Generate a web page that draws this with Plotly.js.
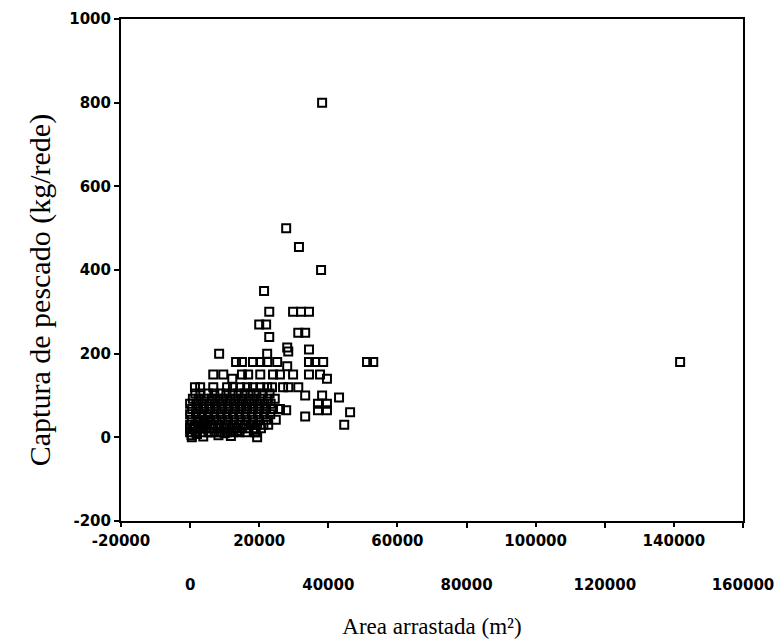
<!DOCTYPE html>
<html>
<head>
<meta charset="utf-8">
<script src="https://cdn.plot.ly/plotly-3.0.1.min.js"></script>
<style>html,body{margin:0;padding:0;background:#fff;}#chart{width:783px;height:639px;}</style>
</head>
<body>
<div id="chart"></div>
<script>
// Area arrastada (m2) and Captura de pescado (kg/rede)
const areaM2 = [
  // sparse / high points
  38200, 27800, 31500, 37900, 21400,
  22900, 29800, 32100, 34400, 20000, 22000, 31300, 33300, 22900,
  28100, 28400, 34400, 8400, 22300,
  13300, 15000, 18200, 20300, 22300, 25200, 28100, 34400, 36200, 38500, 51200, 53000, 141800,
  6700, 9600, 12200, 15000, 16800, 20300, 24000, 26000, 29800, 34400, 37600, 39600,
  1400, 2900, 6700, 10700, 12400, 14500, 16500, 18200, 20300, 22300, 23700, 26900, 28400, 31300,
  33300, 38200, 43100, 37000, 39600, 37000, 39600, 46300, 33300, 27800, 22600, 44600, 19400, 18800,
  // dense rows
  1500, 3000, 5200, 7000, 8800, 10500, 12300, 14000, 15800, 17500, 19200, 21000, 23000,
  800, 2500, 4200, 6300, 8000, 9700, 11600, 13200, 15000, 16900, 18600, 20400, 22500, 24500,
  0, 1800, 3600, 5500, 7200, 9000, 10800, 12600, 14300, 16100, 17800, 19600, 21500, 23300,
  600, 2300, 4000, 5900, 7700, 9400, 11200, 13000, 14800, 16500, 18300, 20100, 22000, 24000, 26000,
  0, 1700, 3400, 5200, 7000, 8800, 10600, 12400, 14200, 16000, 17800, 19600, 21400, 23200,
  500, 2200, 4000, 5800, 7600, 9300, 11000, 12800, 14600, 16400, 18200, 20000, 22000, 24800,
  0, 1500, 3200, 5000, 6800, 8600, 10400, 12200, 14000, 15800, 17600, 19400, 21200,
  900, 2600, 4400, 6200, 8000, 9800, 11500, 13300, 15100, 16900, 18700, 20500,
  0, 1600, 3500, 5300, 7100, 8900, 10700, 12500, 14300, 16100, 19000,
  500, 2000, 3800, 6000, 8200, 10000, 11800, 13600, 18500,
  // low cluster near the origin
  0, 600, 1200, 1800, 2600, 3400, 4200, 5000, 400, 1500, 2800, 3800, 0, 2200, 4500, 1000, 3000, 6000, 5600
];
const capturaKg = [
  800, 500, 455, 400, 350,
  300, 300, 300, 300, 270, 270, 250, 250, 240,
  215, 205, 210, 200, 200,
  180, 180, 180, 180, 180, 180, 170, 180, 180, 180, 180, 180, 180,
  150, 150, 140, 150, 150, 150, 150, 150, 150, 150, 150, 140,
  120, 120, 120, 120, 120, 120, 120, 120, 120, 120, 120, 120, 120, 120,
  100, 100, 95, 80, 80, 65, 65, 60, 50, 65, 30, 30, 0, 12,
  105, 105, 105, 105, 105, 105, 105, 105, 105, 105, 105, 105, 105,
  92, 92, 92, 92, 92, 92, 92, 92, 92, 92, 92, 92, 92, 92,
  80, 80, 80, 80, 80, 80, 80, 80, 80, 80, 80, 80, 80, 80,
  68, 68, 68, 68, 68, 68, 68, 68, 68, 68, 68, 68, 68, 68, 68,
  55, 55, 55, 55, 55, 55, 55, 55, 55, 55, 55, 55, 55, 55,
  42, 42, 42, 42, 42, 42, 42, 42, 42, 42, 42, 42, 42, 42,
  30, 30, 30, 30, 30, 30, 30, 30, 30, 30, 30, 30, 30,
  22, 22, 22, 22, 22, 22, 22, 22, 22, 22, 22, 22,
  12, 12, 12, 12, 12, 12, 12, 12, 12, 12, 12,
  0, 8, 2, 12, 5, 10, 3, 15, 18, 22, 20, 25, 12, 30, 28, 35, 38, 5, 22
];
const xTicksRow1 = [-20000, 20000, 60000, 100000, 140000];
const xTicksRow1Text = ['-20000', '20000', '60000', '100000', '140000'];
const xTicksRow2 = [0, 40000, 80000, 120000, 160000];
const xTicksRow2Text = ['0', '40000', '80000', '120000', '160000'];
const yTicks = [-200, 0, 200, 400, 600, 800, 1000];
const yTicksText = ['-200', '0', '200', '400', '600', '800', '1000'];
const xRange = [-20000, 160000];
const yRange = [-200, 1000];
const xTitle = 'Area arrastada (m²)';
const yTitle = 'Captura de pescado (kg/rede)';

const tickFont = {family: 'DejaVu Sans, Arial, sans-serif', size: 15, color: '#000', weight: 'bold'};
const xTitleFont = {family: 'Liberation Serif, Times New Roman, serif', size: 23, color: '#000'};
const yTitleFont = {family: 'Liberation Serif, Times New Roman, serif', size: 30, color: '#000'};

const traces = [
  {
    type: 'scatter', mode: 'markers', x: areaM2, y: capturaKg,
    marker: {symbol: 'square-open', size: 8, color: '#000', line: {width: 2, color: '#000'}},
    showlegend: false, hoverinfo: 'x+y'
  },
  {type: 'scatter', mode: 'markers', x: [], y: [], xaxis: 'x2', yaxis: 'y', showlegend: false, hoverinfo: 'skip'}
];

const layout = {
  width: 783, height: 639,
  margin: {l: 121, r: 40, t: 19, b: 118},
  paper_bgcolor: '#fff', plot_bgcolor: '#fff',
  showlegend: false,
  xaxis: {
    range: xRange, tickmode: 'array', tickvals: xTicksRow2, ticktext: xTicksRow2Text,
    ticks: 'outside', ticklen: 5, tickwidth: 1.5, tickcolor: '#000',
    ticklabelstandoff: 44,
    showline: true, linewidth: 2, linecolor: '#000', mirror: true,
    showgrid: false, zeroline: false, automargin: false,
    tickfont: tickFont,
    title: {text: xTitle, font: xTitleFont, standoff: 26}
  },
  xaxis2: {
    range: xRange, overlaying: 'x', anchor: 'y', side: 'bottom',
    tickmode: 'array', tickvals: xTicksRow1, ticktext: xTicksRow1Text,
    ticks: 'outside', ticklen: 5, tickwidth: 1.5, tickcolor: '#000',
    ticklabelstandoff: 1,
    showline: false, showgrid: false, zeroline: false, automargin: false,
    tickfont: tickFont
  },
  yaxis: {
    range: yRange, tickmode: 'array', tickvals: yTicks, ticktext: yTicksText,
    ticks: 'outside', ticklen: 5, tickwidth: 1.5, tickcolor: '#000',
    showline: true, linewidth: 2, linecolor: '#000', mirror: true,
    showgrid: false, zeroline: false, automargin: false,
    tickfont: tickFont
  },
  annotations: [{
    text: yTitle, textangle: -90, font: yTitleFont,
    xref: 'paper', yref: 'paper', x: -0.130, y: 0.46,
    xanchor: 'center', yanchor: 'middle', showarrow: false
  }]
};

Plotly.newPlot('chart', traces, layout, {displayModeBar: false});
</script>
</body>
</html>
